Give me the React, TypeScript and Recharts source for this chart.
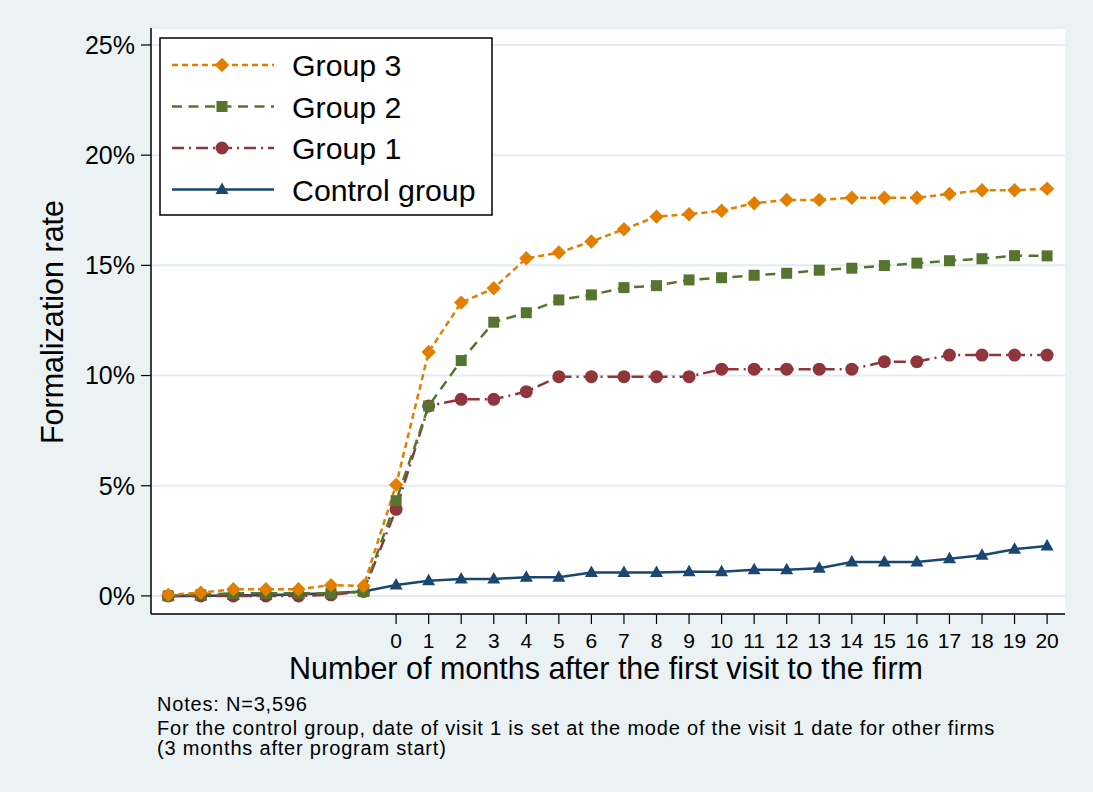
import React from 'react'
import { LineChart, Line, XAxis, YAxis, CartesianGrid } from 'recharts'

// months relative to the first visit
const months = [-7, -6, -5, -4, -3, -2, -1, 0, 1, 2, 3, 4, 5, 6, 7, 8, 9, 10, 11, 12, 13, 14, 15, 16, 17, 18, 19, 20]
const monthTicks = [0, 1, 2, 3, 4, 5, 6, 7, 8, 9, 10, 11, 12, 13, 14, 15, 16, 17, 18, 19, 20]
const rateTicks = [0, 5, 10, 15, 20, 25]

// formalization rate, in %
const group3 = [0.05, 0.15, 0.3, 0.3, 0.3, 0.49, 0.45, 5.04, 11.07, 13.31, 13.96, 15.32, 15.58, 16.08, 16.64, 17.21, 17.32, 17.48, 17.82, 17.97, 17.97, 18.07, 18.07, 18.07, 18.24, 18.41, 18.41, 18.48]
const group2 = [0, 0.05, 0.12, 0.12, 0.12, 0.12, 0.2, 4.32, 8.62, 10.68, 12.42, 12.85, 13.43, 13.66, 13.99, 14.08, 14.34, 14.44, 14.55, 14.64, 14.78, 14.87, 14.99, 15.1, 15.21, 15.3, 15.44, 15.43]
const group1 = [0, 0, 0, 0, 0, 0.05, 0.2, 3.93, 8.62, 8.92, 8.92, 9.27, 9.95, 9.95, 9.95, 9.95, 9.95, 10.29, 10.29, 10.29, 10.29, 10.29, 10.63, 10.63, 10.93, 10.93, 10.93, 10.93]
const control = [0, 0, 0.03, 0.03, 0.08, 0.12, 0.2, 0.5, 0.69, 0.77, 0.77, 0.85, 0.85, 1.06, 1.06, 1.06, 1.1, 1.1, 1.19, 1.19, 1.26, 1.54, 1.54, 1.54, 1.69, 1.85, 2.12, 2.27]

const data = months.map((m, i) => ({
  month: m,
  group3: group3[i],
  group2: group2[i],
  group1: group1[i],
  control: control[i],
}))

const FONT = '"Liberation Sans", Arial, sans-serif'
const BG = '#EAF2F3'

type Shape = 'diamond' | 'square' | 'circle' | 'triangle'

// drawing order: control first, group 3 on top
const series: { key: string; name: string; color: string; dash?: string; shape: Shape }[] = [
  { key: 'control', name: 'Control group', color: '#1A476F', shape: 'triangle' },
  { key: 'group1', name: 'Group 1', color: '#90353B', dash: '12 5 2 5', shape: 'circle' },
  { key: 'group2', name: 'Group 2', color: '#55752F', dash: '10 6.5', shape: 'square' },
  { key: 'group3', name: 'Group 3', color: '#E37E00', dash: '6 4', shape: 'diamond' },
]

function marker(shape: Shape, cx: number, cy: number, color: string, key?: string | number) {
  if (shape === 'diamond') {
    const h = 7.2
    return <polygon key={key} points={`${cx},${cy - h} ${cx + h},${cy} ${cx},${cy + h} ${cx - h},${cy}`} fill={color} />
  }
  if (shape === 'square') {
    return <rect key={key} x={cx - 5.5} y={cy - 5.5} width={11} height={11} fill={color} />
  }
  if (shape === 'circle') {
    return <circle key={key} cx={cx} cy={cy} r={6.5} fill={color} />
  }
  return <polygon key={key} points={`${cx},${cy - 7} ${cx + 6.5},${cy + 4.5} ${cx - 6.5},${cy + 4.5}`} fill={color} />
}

const makeDot = (shape: Shape, color: string) => (props: any) => {
  const { cx, cy, index } = props
  if (cx == null || cy == null) return <g key={index} />
  return marker(shape, cx, cy, color, index)
}

const noteStyle = { letterSpacing: '0.8px' }

function LegendBox() {
  const rows = [...series].reverse()
  return (
    <svg width={1093} height={792} style={{ position: 'absolute', left: 0, top: 0, pointerEvents: 'none' }}>
      <rect x={160} y={38} width={332} height={177} fill="#fff" stroke="#000" strokeWidth={1.5} />
      {rows.map((s, i) => {
        const y = 65 + i * 41.5
        return (
          <g key={s.key}>
            <line x1={172} x2={274} y1={y} y2={y} stroke={s.color} strokeWidth={2.5} strokeDasharray={s.dash} />
            {marker(s.shape, 222, y, s.color)}
            <text x={292} y={y + 11} fontFamily={FONT} fontSize={30.3} fill="#000">{s.name}</text>
          </g>
        )
      })}
      <text x={63} y={322} transform="rotate(-90 63 322)" textAnchor="middle" fontFamily={FONT} fontSize={30.5} fill="#000">
        Formalization rate
      </text>
      <text x={606} y={679} textAnchor="middle" fontFamily={FONT} fontSize={30.5} fill="#000">
        Number of months after the first visit to the firm
      </text>
      <text x={157} y={711} fontFamily={FONT} fontSize={20} fill="#000" style={noteStyle}>Notes: N=3,596</text>
      <text x={157} y={735} fontFamily={FONT} fontSize={20} fill="#000" style={noteStyle}>
        For the control group, date of visit 1 is set at the mode of the visit 1 date for other firms
      </text>
      <text x={157} y={755} fontFamily={FONT} fontSize={20} fill="#000" style={noteStyle}>(3 months after program start)</text>
    </svg>
  )
}

export default function App() {
  return (
    <div style={{ position: 'absolute', left: 0, top: 0, width: 1093, height: 792, background: BG, fontFamily: FONT }}>
      <LineChart width={1093} height={792} data={data} margin={{ top: 28, right: 28, left: 71, bottom: 138 }}>
        <CartesianGrid vertical={false} horizontal fill="#fff" fillOpacity={1} stroke="#E3ECEF" strokeWidth={2} />
        <XAxis
          dataKey="month"
          type="number"
          domain={[-7.53, 20.55]}
          ticks={monthTicks}
          interval={0}
          allowDataOverflow
          height={40}
          tickSize={10}
          tickMargin={9}
          axisLine={{ stroke: '#000', strokeWidth: 1.5 }}
          tickLine={{ stroke: '#000', strokeWidth: 1.2 }}
          tick={{ fill: '#000', fontSize: 21, fontFamily: FONT }}
        />
        <YAxis
          type="number"
          domain={[-0.82, 25.77]}
          ticks={rateTicks}
          allowDataOverflow
          width={80}
          tickSize={10}
          tickMargin={6}
          tickFormatter={(v) => `${v}%`}
          axisLine={{ stroke: '#000', strokeWidth: 1.5 }}
          tickLine={{ stroke: '#000', strokeWidth: 1.2 }}
          tick={{ fill: '#000', fontSize: 25, fontFamily: FONT }}
        />
        {series.map((s) => (
          <Line
            key={s.key}
            dataKey={s.key}
            name={s.name}
            type="linear"
            stroke={s.color}
            strokeWidth={2.5}
            strokeDasharray={s.dash}
            dot={makeDot(s.shape, s.color)}
            activeDot={false}
            isAnimationActive={false}
          />
        ))}
      </LineChart>
      <LegendBox />
    </div>
  )
}
